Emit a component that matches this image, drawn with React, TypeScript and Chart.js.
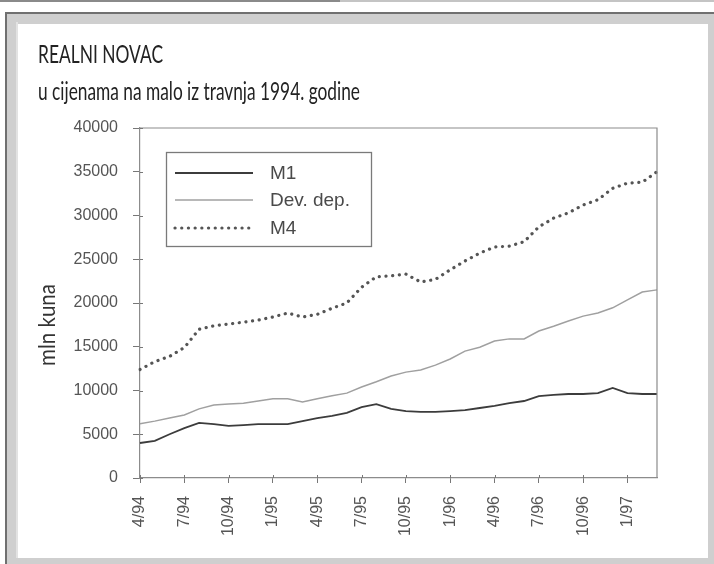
import { useEffect, useRef } from 'react';
import { Chart, registerables } from 'chart.js';

Chart.register(...registerables);

const months = [
  '4/94', '5/94', '6/94', '7/94', '8/94', '9/94', '10/94', '11/94', '12/94',
  '1/95', '2/95', '3/95', '4/95', '5/95', '6/95', '7/95', '8/95', '9/95', '10/95', '11/95', '12/95',
  '1/96', '2/96', '3/96', '4/96', '5/96', '6/96', '7/96', '8/96', '9/96', '10/96', '11/96', '12/96',
  '1/97', '2/97', '3/97',
];

const m1 = [4000, 4250, 5000, 5700, 6300, 6150, 5950, 6050, 6150, 6150, 6150, 6500, 6850, 7100, 7450, 8100, 8450, 7900,
  7650, 7550, 7550, 7650, 7750, 8000, 8250, 8550, 8800, 9350, 9500, 9600, 9600, 9700, 10300, 9700, 9600, 9600];

const devDep = [6200, 6500, 6850, 7200, 7900, 8350, 8450, 8550, 8800, 9050, 9050, 8700, 9050, 9400, 9700, 10400, 11000, 11650,
  12100, 12350, 12900, 13600, 14500, 14950, 15650, 15900, 15900, 16800, 17350, 17950, 18500, 18850, 19450, 20350, 21250, 21500];

const m4 = [12400, 13300, 13900, 14900, 17000, 17400, 17600, 17800, 18050, 18400, 18850, 18400, 18700, 19400, 20000, 21800, 23000, 23100,
  23300, 22400, 22700, 23800, 24800, 25700, 26400, 26500, 27000, 28700, 29700, 30300, 31200, 31800, 33100, 33700, 33800, 35000];

const seriesNames = ['M1', 'Dev. dep.', 'M4'];
const titleText = 'REALNI NOVAC';
const subtitleText = 'u cijenama na malo iz travnja 1994. godine';
const yAxisTitle = 'mln kuna';
const yMin = 0;
const yMax = 40000;
const yStep = 5000;
const quarterEvery = 3;

const TICK_FONT = "'Liberation Sans', Arial, sans-serif";
const HUMAN_FONT = "Lato, 'Open Sans', sans-serif";

function fitText(ctx: CanvasRenderingContext2D, text: string, x: number, y: number, width: number, font: string, color: string, rot = 0) {
  ctx.save();
  ctx.font = font;
  ctx.fillStyle = color;
  ctx.textBaseline = 'alphabetic';
  ctx.textAlign = 'left';
  const w = ctx.measureText(text).width || 1;
  ctx.translate(x, y);
  if (rot) ctx.rotate(rot);
  ctx.scale(width / w, 1);
  ctx.fillText(text, 0, 0);
  ctx.restore();
}

const framePlugin = {
  id: 'frameAndTexts',
  beforeDraw(chart: any) {
    const ctx: CanvasRenderingContext2D = chart.ctx;
    const W = chart.width;
    const H = chart.height;
    ctx.save();
    ctx.fillStyle = '#ffffff';
    ctx.fillRect(0, 0, W, H);
    // scan strip at top
    ctx.fillStyle = '#8a8a8a';
    ctx.fillRect(0, 0, 340, 2);
    ctx.fillStyle = '#c4c4c4';
    ctx.fillRect(340, 0, W - 340, 2);
    // grey band frame
    ctx.fillStyle = '#cfcfcf';
    ctx.fillRect(5, 12, W - 5, H - 12);
    ctx.fillStyle = '#ffffff';
    ctx.fillRect(18, 24, 690, 534);
    // dark outer edges
    ctx.fillStyle = '#707070';
    ctx.fillRect(5, 12, 2, H - 12);
    ctx.fillRect(5, 12, W - 5, 2);
    ctx.fillStyle = '#e2e2e2';
    ctx.fillRect(16, 22, 2, 536);
    ctx.restore();

    fitText(ctx, titleText, 38, 63, 125, `25px ${HUMAN_FONT}`, '#222222');
    fitText(ctx, subtitleText, 38, 100, 322, `25px ${HUMAN_FONT}`, '#222222');
    fitText(ctx, yAxisTitle, 55, 366, 82, `23px ${HUMAN_FONT}`, '#333333', -Math.PI / 2);
  },
  afterDatasetsDraw(chart: any) {
    const ctx: CanvasRenderingContext2D = chart.ctx;
    const { left, right, top, bottom } = chart.chartArea;
    ctx.save();
    // plot frame (top and right)
    ctx.strokeStyle = '#8c8c8c';
    ctx.lineWidth = 1.2;
    ctx.beginPath();
    ctx.moveTo(left, top);
    ctx.lineTo(right, top);
    ctx.lineTo(right, bottom);
    ctx.stroke();
    // inner halves of tick marks
    ctx.strokeStyle = '#777';
    ctx.lineWidth = 1;
    const ys = chart.scales.y;
    ys.ticks.forEach((t: any) => {
      const py = Math.round(ys.getPixelForValue(t.value)) + 0.5;
      ctx.beginPath();
      ctx.moveTo(left, py);
      ctx.lineTo(left + 3, py);
      ctx.stroke();
    });
    const xs = chart.scales.x;
    months.forEach((_, i) => {
      if (i % quarterEvery !== 0) return;
      const px = Math.round(xs.getPixelForValue(i)) + 0.5;
      ctx.beginPath();
      ctx.moveTo(px, bottom);
      ctx.lineTo(px, bottom - 3);
      ctx.stroke();
    });

    // legend box
    const bx = 166, by = 152, bw = 205, bh = 94;
    ctx.fillStyle = '#ffffff';
    ctx.fillRect(bx, by, bw, bh);
    ctx.strokeStyle = '#7a7a7a';
    ctx.lineWidth = 1.3;
    ctx.strokeRect(bx + 0.5, by + 0.5, bw, bh);
    const rowY = [173, 200, 228];
    chart.data.datasets.forEach((ds: any, i: number) => {
      const y = rowY[i];
      ctx.save();
      ctx.strokeStyle = ds.borderColor;
      ctx.lineWidth = ds.borderWidth;
      ctx.lineCap = ds.borderCapStyle || 'butt';
      ctx.setLineDash(ds.borderDash || []);
      ctx.beginPath();
      ctx.moveTo(175, y);
      ctx.lineTo(253, y);
      ctx.stroke();
      ctx.restore();
      ctx.fillStyle = '#4a4a4a';
      ctx.font = `19px ${TICK_FONT}`;
      ctx.textBaseline = 'middle';
      ctx.textAlign = 'left';
      ctx.fillText(ds.label, 270, y + 1);
    });
    ctx.restore();
  },
};

export default function App() {
  const ref = useRef<HTMLCanvasElement | null>(null);

  useEffect(() => {
    if (!ref.current) return;
    const chart = new Chart(ref.current, {
      type: 'line',
      data: {
        labels: months,
        datasets: [
          {
            label: seriesNames[0],
            data: m1,
            borderColor: '#3c3c3c',
            borderWidth: 1.8,
            pointRadius: 0,
            tension: 0,
          },
          {
            label: seriesNames[1],
            data: devDep,
            borderColor: '#a0a0a0',
            borderWidth: 1.5,
            pointRadius: 0,
            tension: 0,
          },
          {
            label: seriesNames[2],
            data: m4,
            borderColor: '#555555',
            borderWidth: 3.2,
            borderDash: [0.1, 6.6],
            borderCapStyle: 'round',
            pointRadius: 0,
            tension: 0,
          },
        ],
      },
      options: {
        responsive: false,
        animation: false,
        events: [],
        layout: { padding: { left: 30, top: 128, right: 57, bottom: 0 } },
        plugins: {
          legend: { display: false },
          tooltip: { enabled: false },
          title: { display: false },
        },
        scales: {
          x: {
            type: 'category',
            offset: false,
            grid: {
              drawOnChartArea: false,
              drawTicks: true,
              tickLength: 5,
              tickColor: (c: any) => (c.index % quarterEvery === 0 ? '#777' : 'rgba(0,0,0,0)'),
            },
            border: { color: '#8c8c8c', width: 1.2 },
            ticks: {
              autoSkip: false,
              maxRotation: 90,
              minRotation: 90,
              padding: 13,
              color: '#555',
              font: { family: TICK_FONT, size: 16 },
              callback: (_v: any, i: number) => (i % quarterEvery === 0 ? months[i] : ''),
            },
            afterFit: (s: any) => {
              s.height = 86;
            },
          },
          y: {
            min: yMin,
            max: yMax,
            grid: {
              drawOnChartArea: false,
              drawTicks: true,
              tickLength: 7,
              tickColor: '#777',
            },
            border: { color: '#8c8c8c', width: 1.2 },
            ticks: {
              stepSize: yStep,
              padding: 15,
              color: '#555',
              font: { family: TICK_FONT, size: 16 },
              callback: (v: any) => String(v),
            },
            afterFit: (s: any) => {
              s.width = 110;
            },
          },
        },
      },
      plugins: [framePlugin],
    });
    return () => chart.destroy();
  }, []);

  return (
    <div style={{ position: 'absolute', left: 0, top: 0, width: 714, height: 564 }}>
      <canvas ref={ref} width={714} height={564} style={{ display: 'block', width: 714, height: 564 }} />
    </div>
  );
}
